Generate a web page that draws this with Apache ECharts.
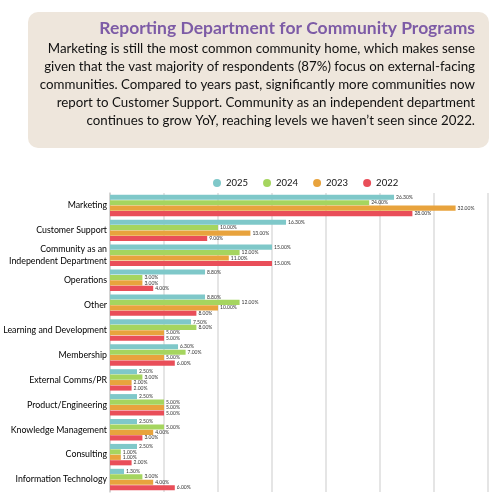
<!DOCTYPE html>
<html>
<head>
<meta charset="utf-8">
<script src="https://cdn.jsdelivr.net/npm/echarts@6/dist/echarts.min.js"></script>
<style>
html, body { margin: 0; padding: 0; background: #fff; }
#chart { width: 493px; height: 500px; }
</style>
</head>
<body>
<div id="chart"></div>
<script>
// 部门类别
var categories = ['Marketing', 'Customer Support', 'Community as an\nIndependent Department', 'Operations', 'Other',
	'Learning and Development', 'Membership', 'External Comms/PR', 'Product/Engineering',
	'Knowledge Management', 'Consulting', 'Information Technology'];
var years = ['2025', '2024', '2023', '2022'];
var v2025 = [26.3, 16.3, 15, 8.8, 8.8, 7.5, 6.3, 2.5, 2.5, 2.5, 2.5, 1.3];
var v2024 = [24, 10, 12, 3, 12, 8, 7, 3, 5, 5, 1, 3];
var v2023 = [32, 13, 11, 3, 10, 5, 5, 2, 5, 4, 1, 4];
var v2022 = [28, 9, 15, 4, 8, 5, 6, 2, 5, 3, 2, 6];
var colors = ['#7fc8c9', '#a5d55f', '#e8a33d', '#e94e59'];

var headTitle = 'Reporting Department for Community Programs';
var headBody = 'Marketing is still the most common community home, which makes sense\n'
	+ 'given that the vast majority of respondents (87%) focus on external-facing\n'
	+ 'communities. Compared to years past, significantly more communities now\n'
	+ 'report to Customer Support. Community as an independent department\n'
	+ 'continues to grow YoY, reaching levels we haven\u2019t seen since 2022.';

var chart = echarts.init(document.getElementById('chart'));
var allData = [v2025, v2024, v2023, v2022];
var series = [];
for (var i = 0; i < years.length; i++) {
	series.push({
		name: years[i],
		type: 'bar',
		data: allData[i],
		barGap: '6%',
		barCategoryGap: '14%',
		itemStyle: { color: colors[i] },
		label: {
			show: true, position: 'right', distance: 2,
			fontSize: 5, color: '#333', fontFamily: 'Lato',
			formatter: function (p) { return p.value.toFixed(2) + '%'; }
		}
	});
}

var option = {
	animation: false,
	color: colors,
	textStyle: { fontFamily: 'Lato' },
	graphic: [
		{ type: 'rect', shape: { x: 28, y: 12, width: 461, height: 136, r: 10 }, style: { fill: '#eee6dc' } },
		{ type: 'text', x: 475, y: 19, style: { text: headTitle, align: 'right', fill: '#7d5ba6', font: 'bold 17.5px Lato' } },
		{ type: 'text', x: 475, y: 40, style: { text: headBody, align: 'right', fill: '#111', font: '13.3px Lato', lineHeight: 18 } }
	],
	legend: {
		top: 173, left: 208, icon: 'circle', itemWidth: 8, itemHeight: 8, itemGap: 15,
		textStyle: { fontSize: 9.5, color: '#111', fontFamily: 'Lato' },
		data: years
	},
	grid: { left: 110, right: 5, top: 193, bottom: 8, containLabel: false, outerBoundsMode: 'none' },
	xAxis: {
		type: 'value', min: 0, max: 35, interval: 5,
		axisLabel: { show: false }, axisTick: { show: false }, axisLine: { show: false },
		splitLine: { lineStyle: { color: '#dcdcdc', width: 1.5 } }
	},
	yAxis: {
		type: 'category', data: categories, inverse: true,
		axisTick: { show: false },
		axisLine: { lineStyle: { color: '#cfcfcf', width: 1.5 } },
		axisLabel: { fontSize: 8.8, color: '#000', fontFamily: 'Lato', margin: 3, lineHeight: 12.5 }
	},
	series: series
};
chart.setOption(option);
</script>
</body>
</html>
